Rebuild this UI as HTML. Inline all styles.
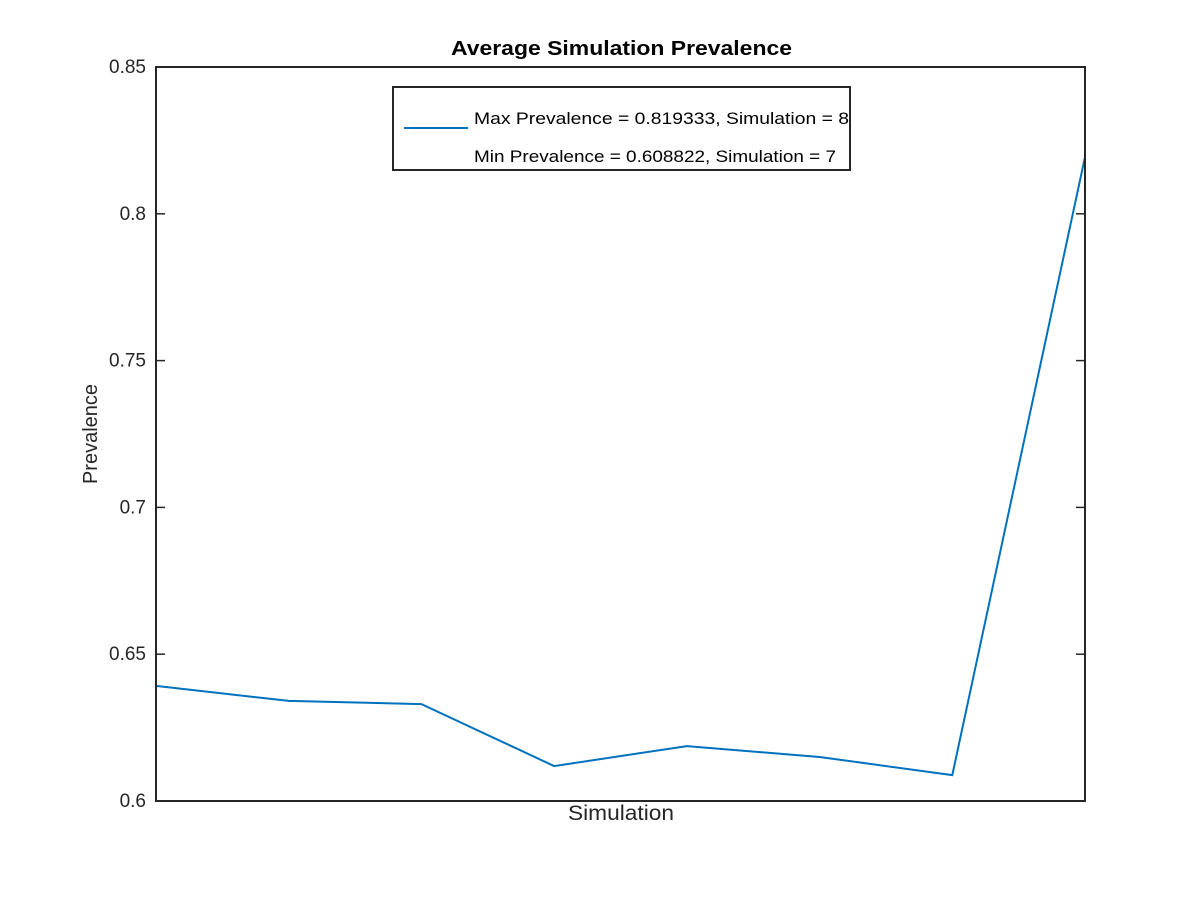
<!DOCTYPE html>
<html><head><meta charset="utf-8"><style>
body{margin:0;background:#fff;}
svg{display:block;font-family:"Liberation Sans",Helvetica,sans-serif;}
</style></head><body>
<svg id="chart" width="1200" height="900" viewBox="0 0 1200 900">
<rect width="1200" height="900" fill="#fff"/>
<text x="451" y="55" textLength="341" lengthAdjust="spacingAndGlyphs" font-size="20" font-weight="bold" fill="#000">Average Simulation Prevalence</text>
<g id="yticks"></g>
<polyline id="series" fill="none" stroke="#0072bd" stroke-width="2"/>
<rect x="156" y="67" width="929" height="734" fill="none" stroke="#262626" stroke-width="2"/>
<text x="568" y="820" textLength="106" lengthAdjust="spacingAndGlyphs" font-size="21" fill="#262626">Simulation</text>
<text transform="translate(97,434) rotate(-90)" text-anchor="middle" font-size="20" fill="#262626">Prevalence</text>
<g>
<rect x="393" y="87" width="457" height="83" fill="#fff" stroke="#262626" stroke-width="2"/>
<line x1="404" y1="128" x2="468" y2="128" stroke="#0072bd" stroke-width="2"/>
<text x="474" y="124" textLength="375" lengthAdjust="spacingAndGlyphs" font-size="17" fill="#000">Max Prevalence = 0.819333, Simulation = 8</text>
<text x="474" y="162" textLength="362" lengthAdjust="spacingAndGlyphs" font-size="17" fill="#000">Min Prevalence = 0.608822, Simulation = 7</text>
</g>
</svg>
<script>
const simulations = [1,2,3,4,5,6,7,8];
const prevalence = [0.6392,0.6341,0.6330,0.6119,0.6187,0.6150,0.608822,0.819333];
const yTickValues = [0.6,0.65,0.7,0.75,0.8,0.85];
const yTickLabels = ["0.6","0.65","0.7","0.75","0.8","0.85"];
const L=156,R=1085,T=67,B=801;
const xs=v=>L+(v-1)/(simulations.length-1)*(R-L);
const ys=v=>B-(v-0.6)/(0.85-0.6)*(B-T);
const ns="http://www.w3.org/2000/svg";
const g=document.getElementById('yticks');
yTickValues.forEach((v,i)=>{
  const y=ys(v);
  [[L,L+9],[R,R-9]].forEach(p=>{
    const l=document.createElementNS(ns,'line');
    l.setAttribute('x1',p[0]);l.setAttribute('x2',p[1]);l.setAttribute('y1',y);l.setAttribute('y2',y);
    l.setAttribute('stroke','#262626');l.setAttribute('stroke-width','1.5');
    
    
    g.appendChild(l);
  });
  const t=document.createElementNS(ns,'text');
  t.setAttribute('x',L-10);t.setAttribute('y',y+6);t.setAttribute('text-anchor','end');
  t.setAttribute('font-size','19');t.setAttribute('fill','#262626');
  t.textContent=yTickLabels[i];
  
  
  g.appendChild(t);
});
document.getElementById('series').setAttribute('points',simulations.map((s,i)=>xs(s)+','+ys(prevalence[i])).join(' '));
</script>
</body></html>
